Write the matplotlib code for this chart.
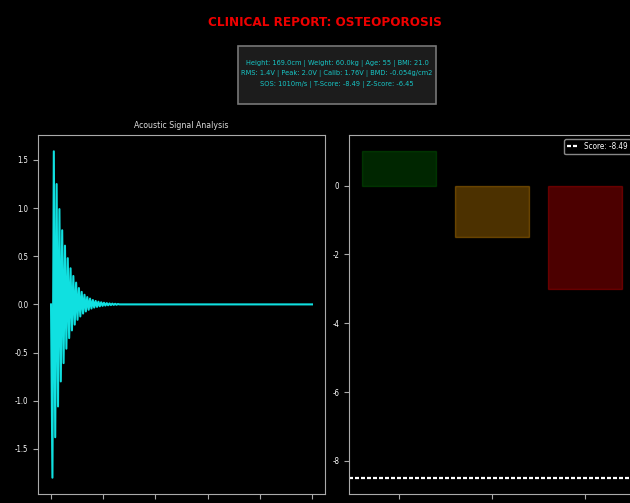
import matplotlib
matplotlib.use("Agg")
import matplotlib.pyplot as plt
from matplotlib.patches import Rectangle
import numpy as np

# ---- data ----
# alternating extremes of the received acoustic burst (V), trough first
signal_troughs = [-1.80, -1.38, -1.06, -0.80, -0.61, -0.46, -0.35, -0.27, -0.21,
                  -0.16, -0.125, -0.095, -0.073, -0.056, -0.043, -0.033, -0.026,
                  -0.020, -0.015, -0.012, -0.009, -0.007, -0.005, -0.004]
signal_peaks = [1.59, 1.25, 0.99, 0.77, 0.61, 0.48, 0.375, 0.295, 0.226, 0.17,
                0.13, 0.10, 0.076, 0.06, 0.046, 0.036, 0.028, 0.022, 0.017,
                0.013, 0.010, 0.008, 0.006, 0.004]
signal_duration = 0.005          # s
half_period = 2.67e-5            # s between successive extremes
time_ticks = [0.000, 0.001, 0.002, 0.003, 0.004, 0.005]

categories = ["Normal", "Osteopenia", "Osteoporosis"]
category_values = [1.0, -1.5, -3.0]
category_colors = ["green", "orange", "red"]
t_score = -8.49

info_lines = [
    "Height: 169.0cm | Weight: 60.0kg | Age: 55 | BMI: 21.0",
    "RMS: 1.4V | Peak: 2.0V | Calib: 1.76V | BMD: -0.054g/cm2",
    "SOS: 1010m/s | T-Score: -8.49 | Z-Score: -6.45",
]
report_title = "CLINICAL REPORT: OSTEOPOROSIS"

# ---- style ----
plt.style.use("dark_background")
plt.rcParams["font.family"] = ["DejaVu Sans"]
plt.rcParams["font.stretch"] = "condensed"
plt.rcParams["axes.edgecolor"] = "#aaaaaa"
plt.rcParams["xtick.color"] = "#aaaaaa"
plt.rcParams["ytick.color"] = "#aaaaaa"
plt.rcParams["xtick.labelcolor"] = "white"
plt.rcParams["ytick.labelcolor"] = "white"
plt.rcParams["axes.unicode_minus"] = False

fig = plt.figure(figsize=(6.3, 5.03), dpi=100)
fig.patch.set_facecolor("black")

fig.text(0.516, 0.956, report_title, color="#ee0000", fontsize=9.6, fontweight="bold",
         ha="center", va="center")

# patient summary panel
fig.patches.append(Rectangle((0.378, 0.793), 0.314, 0.115, transform=fig.transFigure,
                             facecolor="#1c1c1c", edgecolor="#777777", linewidth=1.2))
fig.text(0.535, 0.853, "\n".join(info_lines), color="#17c7c7", fontsize=5.3,
         ha="center", va="center", linespacing=1.72)

# ---- acoustic signal ----
ax1 = fig.add_axes([0.0603, 0.0179, 0.4556, 0.7137])
values = [0.0]
for tr, pk in zip(signal_troughs, signal_peaks):
    values += [tr, pk]
values.append(0.0)
times = list(np.arange(len(values)) * half_period)
values.append(0.0)
times.append(signal_duration)
ax1.plot(times, values, color="#10e0e0", linewidth=1.5)
ax1.set_xticks(time_ticks)
ax1.set_xticklabels([f"{t:.3f}" for t in time_ticks])
ax1.set_yticks([-1.5, -1.0, -0.5, 0.0, 0.5, 1.0, 1.5])
ax1.tick_params(labelsize=5.6)
ax1.set_title("Acoustic Signal Analysis", color="#dddddd", fontsize=6.2, pad=5)

# ---- T-score classification ----
ax2 = fig.add_axes([0.554, 0.0179, 0.454, 0.7137])
ax2.bar(range(len(categories)), category_values, color=category_colors,
        edgecolor=category_colors, linewidth=1, alpha=0.3, width=0.8)
ax2.axhline(t_score, color="white", linestyle=(0, (1.8, 0.9)), linewidth=1.6,
            label=f"Score: {t_score:.2f}")
ax2.set_xticks(range(len(categories)))
ax2.set_xticklabels(categories)
ax2.set_yticks([0, -2, -4, -6, -8])
ax2.tick_params(labelsize=5.6)
ax2.legend(loc="upper right", fontsize=5.8, facecolor="black", edgecolor="#aaaaaa",
           handlelength=1.3)

fig.savefig("out.png", dpi=100, facecolor="black")
